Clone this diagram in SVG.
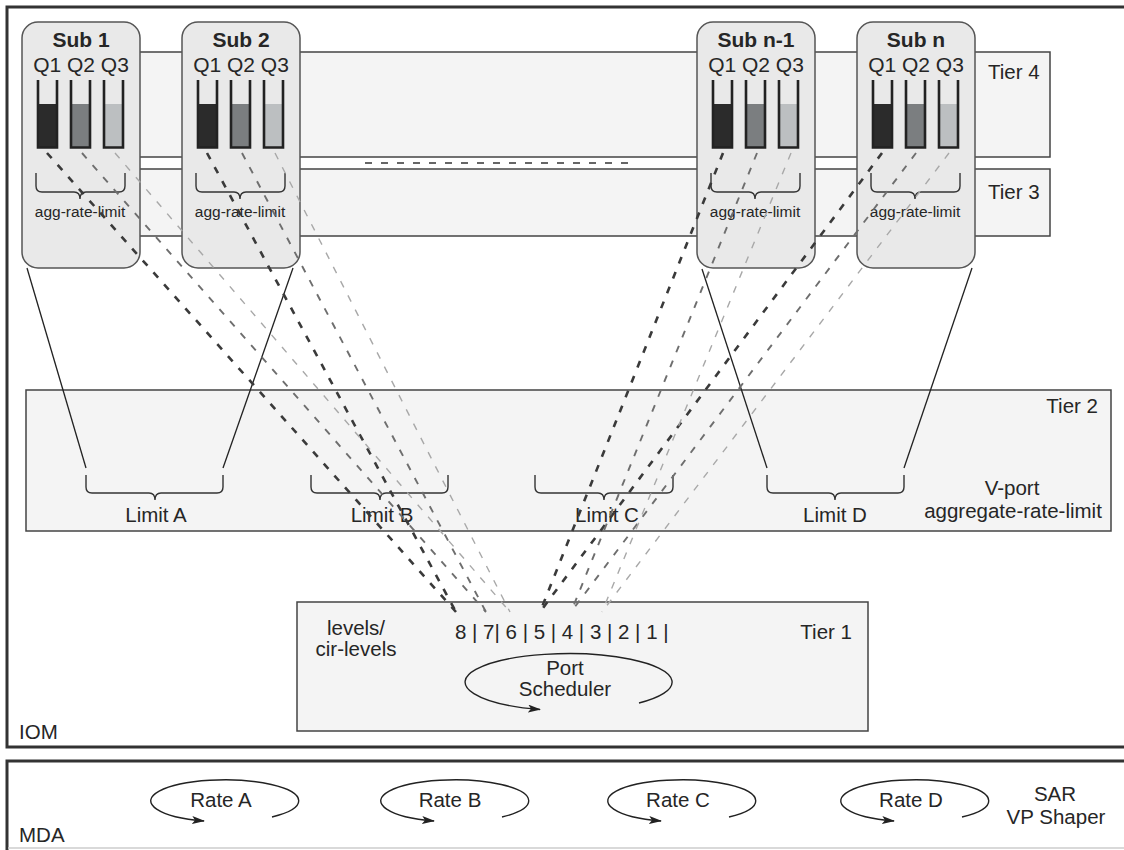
<svg xmlns="http://www.w3.org/2000/svg" width="1124" height="850" viewBox="0 0 1124 850">
<defs>
<style>
text{font-family:"Liberation Sans",Arial,sans-serif;fill:#262626;font-size:20.5px}
.mid{text-anchor:middle}
.end{text-anchor:end}
.bold{font-weight:bold;font-size:21px}
.q{font-size:21px}
.small{font-size:15.5px}
.frame{fill:#fff;stroke:#333;stroke-width:3}
.band{fill:#f4f4f4;stroke:#444;stroke-width:1.5}
.sub{fill:#e9e9e9;stroke:#555;stroke-width:1.5}
.tube{fill:none;stroke:#222;stroke-width:2.6}
.brace{fill:none;stroke:#333;stroke-width:1.4}
.solid{fill:none;stroke:#222;stroke-width:1.3}
.loop{fill:none;stroke:#222;stroke-width:1.4}
.d1{fill:none;stroke:#3a3a3a;stroke-width:2.6;stroke-dasharray:7 9}
.d2{fill:none;stroke:#6e6e6e;stroke-width:1.9;stroke-dasharray:7 9}
.d3{fill:none;stroke:#a8a8a8;stroke-width:1.4;stroke-dasharray:7 9}
</style>
<marker id="arr" markerWidth="14" markerHeight="10" refX="12" refY="4" orient="auto" markerUnits="userSpaceOnUse">
<path d="M0,0 L13,4 L0,8 L3,4 z" fill="#222"/>
</marker>
<g id="subbody">
<rect class="sub" x="22" y="22" width="118" height="246" rx="16"/>
<rect x="38" y="104" width="19" height="44" fill="#2b2b2b"/>
<rect x="71" y="104" width="19" height="44" fill="#7b7e80"/>
<rect x="104" y="104" width="19" height="44" fill="#bcbfc1"/>
<path class="tube" d="M38,80 V147.5 H57 V80 M71,80 V147.5 H90 V80 M104,80 V147.5 H123 V80"/>
<path class="brace" d="M36,173 V186 Q36,192 42,192 H74 Q80,192 80,199 Q80,192 86,192 H119 Q125,192 125,186 V173"/>
<text class="mid q" x="81" y="72">Q1 Q2 Q3</text>
<text class="mid small" x="80" y="217">agg-rate-limit</text>
</g>
</defs>

<g id="iom">
<rect class="frame" x="7" y="7" width="1125" height="740"/>
<text x="19" y="739">IOM</text>
</g>

<g id="tiers34">
<rect class="band" x="80" y="52" width="970" height="105"/>
<rect class="band" x="80" y="169" width="970" height="67"/>
<line x1="365" y1="163" x2="630" y2="163" stroke="#666" stroke-width="2" stroke-dasharray="7 9"/>
<text x="988" y="79">Tier 4</text>
<text x="988" y="199">Tier 3</text>
</g>

<g id="sub1"><use href="#subbody"/><text class="mid bold" x="81" y="47">Sub 1</text></g>
<g id="sub2"><use href="#subbody" transform="translate(160,0)"/><text class="mid bold" x="241" y="47">Sub 2</text></g>
<g id="subn1"><use href="#subbody" transform="translate(675,0)"/><text class="mid bold" x="756" y="47">Sub n-1</text></g>
<g id="subn"><use href="#subbody" transform="translate(835,0)"/><text class="mid bold" x="916" y="47">Sub n</text></g>

<g id="tier2">
<rect class="band" x="26" y="390" width="1085" height="141"/>
<text class="end" x="1098" y="413">Tier 2</text>
<text class="mid" x="1012" y="495">V-port</text>
<text class="mid" x="1013" y="518">aggregate-rate-limit</text>
<path class="brace" d="M86,475 V487 Q86,493 92,493 H149 Q155,493 155,500 Q155,493 161,493 H217 Q223,493 223,487 V475"/>
<text class="mid" x="156" y="522">Limit A</text>
<path class="brace" d="M311,475 V487 Q311,493 317,493 H374 Q380,493 380,500 Q380,493 386,493 H442 Q448,493 448,487 V475"/>
<text class="mid" x="382" y="522">Limit B</text>
<path class="brace" d="M535,475 V487 Q535,493 541,493 H598 Q604,493 604,500 Q604,493 610,493 H667 Q673,493 673,487 V475"/>
<text class="mid" x="607" y="522">Limit C</text>
<path class="brace" d="M767,475 V487 Q767,493 773,493 H829 Q835,493 835,500 Q835,493 841,493 H898 Q904,493 904,487 V475"/>
<text class="mid" x="835" y="522">Limit D</text>
</g>

<g id="tier1">
<rect class="band" x="297" y="602" width="571" height="129"/>
<text class="mid" x="356" y="635">levels/</text>
<text class="mid" x="356" y="656">cir-levels</text>
<text x="455" y="639">8 | 7| 6 | 5 | 4 | 3 | 2 | 1 |</text>
<text class="end" x="852" y="639">Tier 1</text>
<path class="loop" marker-end="url(#arr)" d="M639,703 A103.5 28.5 0 1 0 540,709.5"/>
<text class="mid" x="565" y="675">Port</text>
<text class="mid" x="565" y="696">Scheduler</text>
</g>

<g id="connectors">
<line class="solid" x1="27" y1="268" x2="86" y2="468"/>
<line class="solid" x1="293" y1="268" x2="223" y2="468"/>
<line class="solid" x1="702" y1="269" x2="767" y2="468"/>
<line class="solid" x1="972" y1="268" x2="904" y2="468"/>
<line class="d1" x1="47" y1="153" x2="456" y2="612"/>
<line class="d1" x1="207" y1="153" x2="456" y2="612"/>
<line class="d2" x1="82" y1="153" x2="486" y2="612"/>
<line class="d2" x1="242" y1="153" x2="486" y2="612"/>
<line class="d3" x1="115" y1="153" x2="510" y2="612"/>
<line class="d3" x1="275" y1="153" x2="510" y2="612"/>
<line class="d1" x1="723" y1="153" x2="540" y2="612"/>
<line class="d1" x1="882" y1="153" x2="540" y2="612"/>
<line class="d2" x1="757" y1="153" x2="571" y2="612"/>
<line class="d2" x1="916" y1="153" x2="571" y2="612"/>
<line class="d3" x1="791" y1="153" x2="602" y2="612"/>
<line class="d3" x1="949" y1="153" x2="602" y2="612"/>
</g>

<g id="mda">
<rect class="frame" x="7" y="761" width="1125" height="100"/>
<line x1="8" y1="848" x2="1124" y2="848" stroke="#ccc" stroke-width="1.5"/>
<text x="19" y="842">MDA</text>
<path class="loop" marker-end="url(#arr)" d="M272,817 A74 21 0 1 0 204,821"/>
<text class="mid" x="221" y="807">Rate A</text>
<path class="loop" marker-end="url(#arr)" d="M502,817 A74 21 0 1 0 434,821"/>
<text class="mid" x="450" y="807">Rate B</text>
<path class="loop" marker-end="url(#arr)" d="M729,817 A74 21 0 1 0 661,821"/>
<text class="mid" x="678" y="807">Rate C</text>
<path class="loop" marker-end="url(#arr)" d="M962,817 A74 21 0 1 0 894,821"/>
<text class="mid" x="911" y="807">Rate D</text>
<text class="mid" x="1055" y="801">SAR</text>
<text class="mid" x="1056" y="824">VP Shaper</text>
</g>
</svg>
